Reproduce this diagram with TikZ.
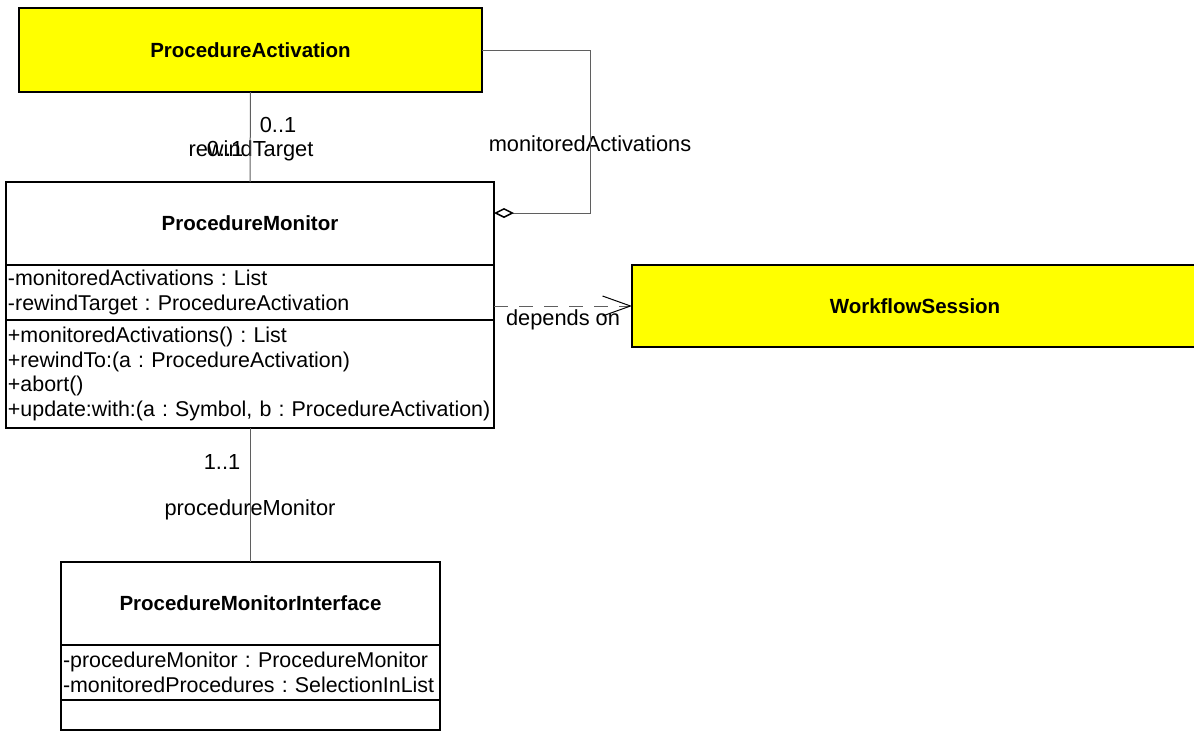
\documentclass[tikz,border=0pt]{standalone}
\usepackage{fontspec}
\setmainfont{Liberation Sans}
\usepackage{tikz}
\usetikzlibrary{positioning}
\usetikzlibrary{arrows.meta}
\pgfdeclarelayer{nodelayer}
\pgfdeclarelayer{edgelayer}
\pgfsetlayers{nodelayer,edgelayer,main}
\definecolor{umlyellow}{RGB}{255,255,0}
\definecolor{edgegray}{RGB}{95,95,95}
\frenchspacing
\tikzset{
    none/.style = {inner sep=0pt},
    umltext/.style = {font=\fontsize{21.4}{24.5}\selectfont},
    classname/.style = {draw, line width=2pt, inner sep=0pt, outer sep=0pt,
        font=\fontsize{20.5}{24.5}\selectfont\bfseries},
    compart/.style = {draw, line width=2pt, anchor=north west, align=left,
        inner xsep=2pt, inner ysep=0pt, outer sep=0pt, umltext},
    lbl/.style = {none, font=\fontsize{21.8}{24.5}\selectfont, anchor=base},
    link/.style = {draw=edgegray, line width=1pt}
}

\begin{document}
\begin{tikzpicture}[x=1pt, y=-1pt]
  \useasboundingbox (0,0) rectangle (1194,732);
  \begin{pgfonlayer}{nodelayer}
    % classes
    \node [classname, fill=umlyellow, minimum width=463, minimum height=84] (pa) at (250.5, 50) {ProcedureActivation};
    \node [classname, fill=umlyellow, minimum width=566, minimum height=82] (ws) at (915, 306) {WorkflowSession};
    \node [classname, minimum width=488, minimum height=83] (pm) at (250, 223.5) {ProcedureMonitor};
    \node [compart, text width=484, minimum height=55] (pmattr) at (pm.south west) {-monitoredActivations : List\\-rewindTarget : ProcedureActivation};
    \node [compart, text width=484, minimum height=108] (pmops) at (pmattr.south west) {+monitoredActivations() : List\\+rewindTo:(a : ProcedureActivation)\\+abort()\\+update:with:(a : Symbol, b : ProcedureActivation)};
    \node [classname, minimum width=379, minimum height=83] (pmi) at (250.5, 603.5) {ProcedureMonitorInterface};
    \node [compart, text width=375, minimum height=55] (pmiattr) at (pmi.south west) {-procedureMonitor : ProcedureMonitor\\-monitoredProcedures : SelectionInList};
    \node [compart, text width=375, minimum height=30] (pmiops) at (pmiattr.south west) {};
    % labels
    \node [lbl] (paMult) at (278, 132) {0..1};
    \node [lbl] (rewindRole) at (251, 156) {rewindTarget};
    \node [lbl] (rewindMult) at (225, 156) {0..1};
    \node [lbl] (aggRole) at (590, 151) {monitoredActivations};
    \node [lbl] (depLabel) at (563, 325) {depends on};
    \node [lbl] (pmMult) at (222, 469) {1..1};
    \node [lbl] (pmRole) at (250, 515) {procedureMonitor};
    \coordinate (aggturn) at (590, 213);
    \coordinate (pmagg) at (pm.east |- aggturn);
    \coordinate (pmdep) at (pmattr.east |- ws.west);
  \end{pgfonlayer}
  \begin{pgfonlayer}{edgelayer}
    \draw [link] (pa.south) to (pm.north);
    \draw [link, -{Diamond[open, length=20pt, width=10pt, line width=1.5pt, color=black]}] (pa.east) -| (aggturn) -- (pmagg);
    \draw [link, dash pattern=on 14pt off 11pt, -{Straight Barb[length=28pt, width=20pt, color=black]}] (pmdep) to (ws.west);
    \draw [link] (pmops.south -| pmi.north) to (pmi.north);
  \end{pgfonlayer}
\end{tikzpicture}
\end{document}
